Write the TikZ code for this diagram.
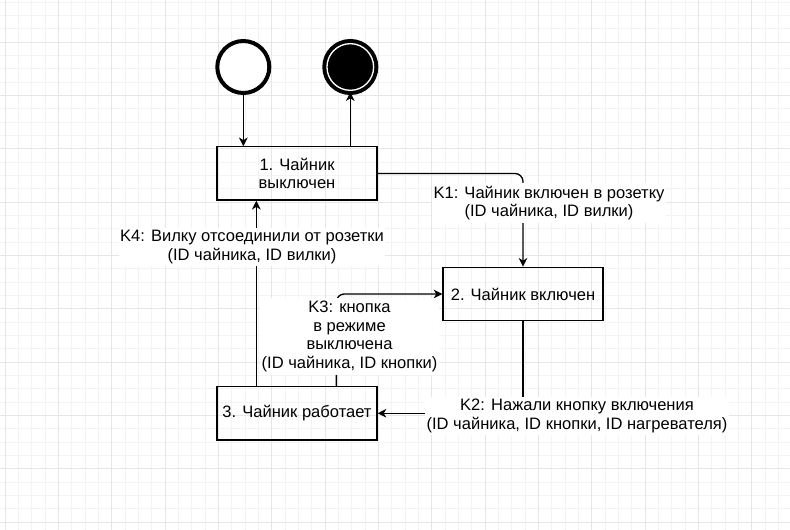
\documentclass[tikz,border=0pt]{standalone}
\usepackage{fontspec}
\setmainfont{Liberation Sans}
\usepackage{xcolor}
\usetikzlibrary{positioning,arrows.meta}

\definecolor{gridmajor}{HTML}{E6E6E6}
\definecolor{gridminor}{HTML}{F3F3F3}

\begin{document}
\begin{tikzpicture}[x=0.75pt, y=-0.75pt,
  txt/.style = {font=\fontsize{12.4pt}{14pt}\selectfont},
  state/.style = {draw, line width=1pt, minimum width=120pt, minimum height=40pt, inner sep=0pt, align=center, txt},
  lbl/.style = {fill=white, align=center, inner xsep=1pt, inner ysep=2pt, txt},
  ini/.style = {draw, circle, fill=white, line width=3pt, minimum size=39pt, inner sep=0pt},
  fin/.style = {draw, circle, fill=black, line width=3pt, double=white, double distance=1pt, minimum size=35pt, inner sep=0pt},
  link/.style = {-{Stealth[length=6.5pt,width=6.5pt,inset=2pt]}, line width=1pt}]

      \useasboundingbox (0,0) rectangle (790,530);
      \fill[white] (0,0) rectangle (790,530);
      % grid
      \foreach \i in {0,...,58}
        \draw[gridminor, line width=0.75pt] ({5+\i*13.3333},0) -- ({5+\i*13.3333},530);
      \foreach \j in {1,...,39}
        \draw[gridminor, line width=0.75pt] (0,{-11+\j*13.3333}) -- (790,{-11+\j*13.3333});
      \foreach \i in {0,...,14}
        \draw[gridmajor, line width=0.75pt] ({5+\i*53.3333},0) -- ({5+\i*53.3333},530);
      \foreach \j in {1,...,10}
        \draw[gridmajor, line width=0.75pt] (0,{-11+\j*53.3333}) -- (790,{-11+\j*53.3333});

      \node[state] (st1) at (297,173.5) {1. Чайник\\выключен};
      \node[state] (st2) at (523,294) {2. Чайник включен};
      \node[state] (st3) at (297,413.3) {3. Чайник работает};

      \node[ini] (start) at (243.3,67) {};
      \node[fin] (stop) at (350.3,67) {};

      \draw[link] (start) to (start |- st1.north);
      \draw[link] (stop |- st1.north) to (stop);

      \draw[link,rounded corners=6pt] (st1.east) -| (st2.north);
      \draw[link] (st2.south) |- (st3.east);
      \draw[link,rounded corners=6pt] ([xshift=90pt]st3.north west) |- (st2.west);
      \draw[link] ([xshift=30pt]st3.north west) to ([xshift=30pt]st1.south west);

      \node[lbl] (k1) at (549,203) {K1: Чайник включен в розетку\\(ID чайника, ID вилки)};
      \node[lbl] (k2) at (577,416) {K2: Нажали кнопку включения\\(ID чайника, ID кнопки, ID нагревателя)};
      \node[lbl] (k3) at (349.5,336.5) {K3: кнопка\\в режиме\\выключена\\(ID чайника, ID кнопки)};
      \node[lbl] (k4) at (252,247) {K4: Вилку отсоединили от розетки\\(ID чайника, ID вилки)};
    \end{tikzpicture}
\end{document}
